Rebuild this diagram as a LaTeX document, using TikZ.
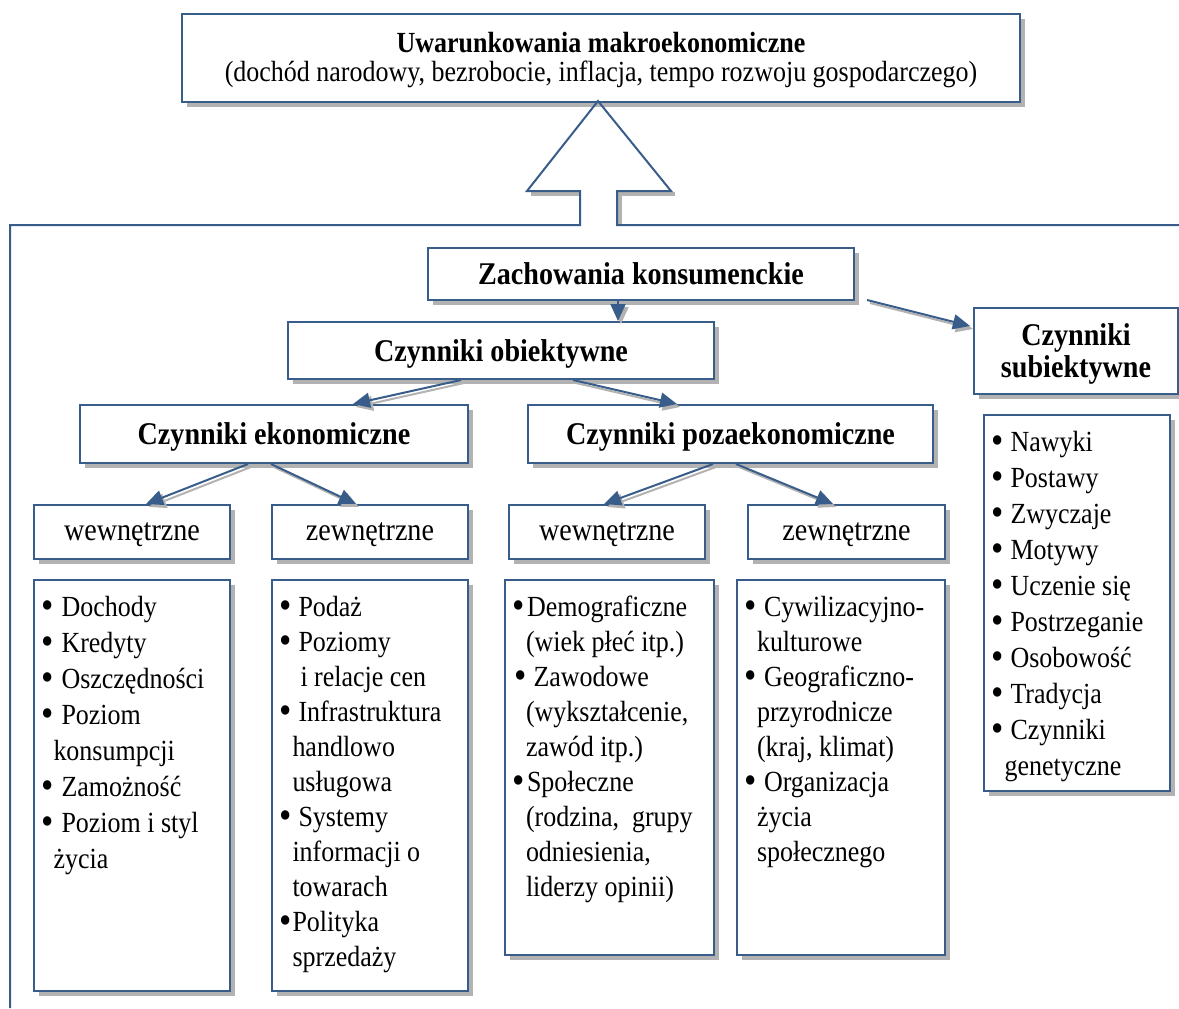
\documentclass[tikz,border=0pt]{standalone}
\usepackage{fontspec}
\setmainfont{Liberation Serif}[FakeStretch=0.89]
\usetikzlibrary{arrows.meta,shadows,calc}
\definecolor{ramka}{RGB}{56,93,138}
\definecolor{cien}{RGB}{178,178,178}
\tikzset{
  pole/.style={draw=ramka, line width=1pt, fill=white, inner sep=0pt, anchor=north west,
    drop shadow={shadow xshift=2.5pt, shadow yshift=-2.5pt, fill=cien, opacity=1}},
  naglowek/.style={pole, font=\fontsize{15.8}{16}\selectfont\bfseries, align=center, text depth=0pt},
  podgrupa/.style={pole, font=\fontsize{15.8}{17}\selectfont, text depth=0pt},
  lista/.style={pole, inner xsep=3.5pt, inner ysep=0pt, align=left},
  strzalka/.style={draw=ramka, line width=1pt, -{Triangle[width=7.5pt,length=8.5pt]}},
  strzalkacien/.style={draw=cien, line width=1pt, -{Triangle[width=7.5pt,length=8.5pt]}},
}
\newcommand{\pkt}[1]{\makebox[#1][l]{\raisebox{-0.15ex}{\scalebox{1.35}{\textbullet}}}}
\newcommand{\strz}[2]{%
  \draw[strzalkacien, transform canvas={xshift=1.5pt,yshift=-1.5pt}] #1 -- #2;
  \draw[strzalka] #1 -- #2;}

\begin{document}
\begin{tikzpicture}[x=0.5pt,y=-0.5pt]
\useasboundingbox (0,0) rectangle (1179,1008);

% Uwarunkowania
\node[pole, minimum width=419pt, minimum height=44pt, align=center, text depth=1.5pt,
  font=\fontsize{14.6}{14.5}\selectfont] (makro) at (181,13)
  {\textbf{Uwarunkowania makroekonomiczne}\\(dochód narodowy, bezrobocie, inflacja, tempo rozwoju gospodarczego)};

% Duza strzalka i rama
\draw[cien, line width=2pt] (531,194) -- (580,194);
\draw[cien, line width=2pt] (620,225) -- (620,194) -- (675,194);
\draw[ramka, line width=1pt] (10,1008) -- (10,225) -- (580,225) -- (580,191) -- (527,191)
  -- (598,101) -- (671,191) -- (617,191) -- (617,225) -- (1179,225);

% Naglowki
\node[naglowek, minimum width=213pt, minimum height=26pt] (zach) at (427,247) {Zachowania konsumenckie};
\node[naglowek, minimum width=213pt, minimum height=28.5pt] (obj) at (287,321) {Czynniki obiektywne};
\node[naglowek, minimum width=102pt, minimum height=43pt] (subj) at (973,307) {Czynniki\\subiektywne};
\node[naglowek, minimum width=194pt, minimum height=29pt] (ekon) at (79,404) {Czynniki ekonomiczne};
\node[naglowek, minimum width=202.5pt, minimum height=29pt] (poza) at (527,404) {Czynniki pozaekonomiczne};

% Podgrupy
\node[podgrupa, minimum width=98pt, minimum height=27pt] (wew1) at (33,504) {wewnętrzne};
\node[podgrupa, minimum width=98pt, minimum height=27pt] (zew1) at (271,504) {zewnętrzne};
\node[podgrupa, minimum width=98pt, minimum height=27pt] (wew2) at (508,504) {wewnętrzne};
\node[podgrupa, minimum width=98.5pt, minimum height=27pt] (zew2) at (747,504) {zewnętrzne};

% Listy
\node[lista, font=\fontsize{14.6}{18}\selectfont] (l1) at (33,579) {\parbox[c][205.5pt][t]{91pt}{\raggedright
  \rule{0pt}{18pt}\pkt{10.25pt}Dochody\\
  \pkt{10.25pt}Kredyty\\
  \pkt{10.25pt}Oszczędności\\
  \pkt{10.25pt}Poziom\\
  \hspace*{6.25pt}konsumpcji\\
  \pkt{10.25pt}Zamożność\\
  \pkt{10.25pt}Poziom i styl\\
  \hspace*{6.25pt}życia}};
\node[lista, font=\fontsize{14.6}{17.5}\selectfont] (l2) at (271,579) {\parbox[c][205.5pt][t]{91pt}{\raggedright
  \rule{0pt}{18pt}\pkt{9.75pt}Podaż\\
  \pkt{9.75pt}Poziomy\\
  \hspace*{10.75pt}i relacje cen\\
  \pkt{9.75pt}Infrastruktura\\
  \hspace*{6.75pt}handlowo\\
  \hspace*{6.75pt}usługowa\\
  \pkt{9.75pt}Systemy\\
  \hspace*{6.75pt}informacji o\\
  \hspace*{6.75pt}towarach\\
  \pkt{6.75pt}Polityka\\
  \hspace*{6.75pt}sprzedaży}};
\node[lista, font=\fontsize{14.6}{17.5}\selectfont] (l3) at (504,579) {\parbox[c][187.5pt][t]{97.5pt}{\raggedright
  \rule{0pt}{18pt}\pkt{7.5pt}Demograficzne\\
  \hspace*{7pt}(wiek płeć itp.)\\
  \hspace*{1.25pt}\pkt{9.5pt}Zawodowe\\
  \hspace*{7pt}(wykształcenie,\\
  \hspace*{7pt}zawód itp.)\\
  \pkt{7.5pt}Społeczne\\
  \hspace*{7pt}(rodzina,\ \ grupy\\
  \hspace*{7pt}odniesienia,\\
  \hspace*{7pt}liderzy opinii)}};
\node[lista, font=\fontsize{14.6}{17.5}\selectfont] (l4) at (736,579) {\parbox[c][187.5pt][t]{97pt}{\raggedright
  \rule{0pt}{18pt}\pkt{10pt}Cywilizacyjno-\\
  \hspace*{6.5pt}kulturowe\\
  \pkt{10pt}Geograficzno-\\
  \hspace*{6.5pt}przyrodnicze\\
  \hspace*{6.5pt}(kraj, klimat)\\
  \pkt{10pt}Organizacja\\
  \hspace*{6.5pt}życia\\
  \hspace*{6.5pt}społecznego}};
\node[lista, font=\fontsize{14.6}{18}\selectfont] (l5) at (983,414) {\parbox[c][188pt][t]{86pt}{\raggedright
  \rule{0pt}{18pt}\pkt{9.75pt}Nawyki\\
  \pkt{9.75pt}Postawy\\
  \pkt{9.75pt}Zwyczaje\\
  \pkt{9.75pt}Motywy\\
  \pkt{9.75pt}Uczenie się\\
  \pkt{9.75pt}Postrzeganie\\
  \pkt{9.75pt}Osobowość\\
  \pkt{9.75pt}Tradycja\\
  \pkt{9.75pt}Czynniki\\
  \hspace*{6.75pt}genetyczne}};

% Strzalki
\strz{($(zach.south)+(-23,0)$)}{($(obj.north)+(117,0)$)}
\strz{($(zach.south east)+(12,-1)$)}{($(subj.west)+(-3,-25)$)}
\strz{($(obj.south)+(-40,0)$)}{($(ekon.north)+(79,0)$)}
\strz{($(obj.south)+(72,0)$)}{($(poza.north)+(-53.5,0)$)}
\strz{($(ekon.south)+(-26,0)$)}{($(wew1.north)+(14,0)$)}
\strz{($(ekon.south)+(-3,0)$)}{($(zew1.north)+(-14,0)$)}
\strz{($(poza.south)+(-17.5,0)$)}{($(wew2.north)+(-3,0)$)}
\strz{($(poza.south)+(5.5,0)$)}{($(zew2.north)+(-13.5,0)$)}
\end{tikzpicture}
\end{document}
